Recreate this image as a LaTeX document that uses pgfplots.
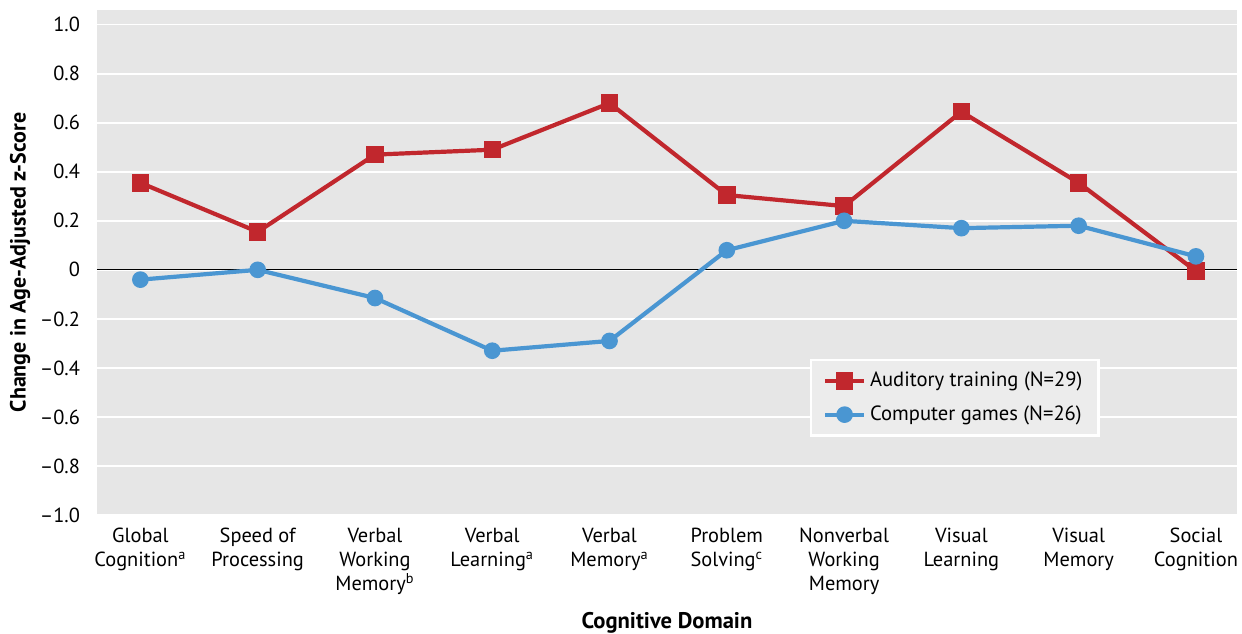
\documentclass[border=0pt]{standalone}
\usepackage{pgfplots}
\pgfplotsset{compat=1.18}
\usepackage{fontspec}
\setmainfont{PT Sans}
\definecolor{redA}{RGB}{193,39,45}
\definecolor{blueC}{RGB}{74,150,210}
\definecolor{bgG}{RGB}{230,230,230}
\definecolor{legG}{RGB}{236,236,236}
\begin{document}
\begin{tikzpicture}
\begin{axis}[
 scale only axis, width=570pt, height=252.5pt,
 xmin=-0.37, xmax=9.35, ymin=-1, ymax=1.06,
 axis background/.style={fill=bgG},
 axis line style={draw=none},
 major tick length=0pt,
 ymajorgrids, grid style={white, line width=0.8pt},
 ytick={-1,-0.8,-0.6,-0.4,-0.2,0,0.2,0.4,0.6,0.8,1},
 yticklabels={--1.0,--0.8,--0.6,--0.4,--0.2,0,0.2,0.4,0.6,0.8,1.0},
 yticklabel style={font=\fontsize{10.2}{12}\selectfont, xshift=-5pt},
 xtick={0,1,2,3,4,5,6,7,8,9},
 xticklabels={Global\\Cognition\textsuperscript{a},Speed of\\Processing,Verbal\\Working\\Memory\textsuperscript{b},Verbal\\Learning\textsuperscript{a},Verbal\\Memory\textsuperscript{a},Problem\\Solving\textsuperscript{c},Nonverbal\\Working\\Memory,Visual\\Learning,Visual\\Memory,Social\\Cognition},
 xticklabel style={align=center, font=\fontsize{10.2}{12}\selectfont, anchor=north, yshift=-3pt},
 xlabel={\bfseries Cognitive Domain},
 xlabel style={font=\fontsize{11.3}{12}\selectfont, at={(axis description cs:0.5,0)}, anchor=center, yshift=-54pt},
 ylabel={\bfseries Change in Age-Adjusted z-Score},
 ylabel style={font=\fontsize{11}{12}\selectfont, at={(axis description cs:-0.0675,0.5)}, anchor=center, rotate=0},
 legend style={at={(axis description cs:0.6254,0.309)}, anchor=north west, fill=legG, draw=white, line width=1.2pt, font=\fontsize{10.3}{12}\selectfont, row sep=4pt, inner xsep=6pt, inner ysep=4pt},
 legend cell align=left,
 legend image code/.code={\draw[mark repeat=2,mark phase=2] plot coordinates {(0cm,0cm) (0.34cm,0cm) (0.68cm,0cm)};},
]
\addplot[black, line width=0.5pt, no marks, forget plot] coordinates {(-0.37,0) (9.35,0)};
\addplot[redA, line width=2.1pt, mark=square*, mark size=3.3pt, mark options={solid}] coordinates {
(0,0.355) (1,0.155) (2,0.47) (3,0.49) (4,0.68) (5,0.305) (6,0.26) (7,0.645) (8,0.355) (9,-0.005)};
\addlegendentry{Auditory training (N=29)}
\addplot[blueC, line width=2.1pt, mark=*, mark size=3.1pt] coordinates {
(0,-0.04) (1,0.0) (2,-0.115) (3,-0.33) (4,-0.29) (5,0.08) (6,0.2) (7,0.17) (8,0.18) (9,0.055)};
\addlegendentry{Computer games (N=26)}
\end{axis}
\path (current axis.south west) ++(-48.5pt,-59.5pt) coordinate (bbA);
\path (current axis.north east) ++(2.5pt,5pt) coordinate (bbB);
\pgfresetboundingbox
\path[use as bounding box] (bbA) rectangle (bbB);
\end{tikzpicture}
\end{document}
